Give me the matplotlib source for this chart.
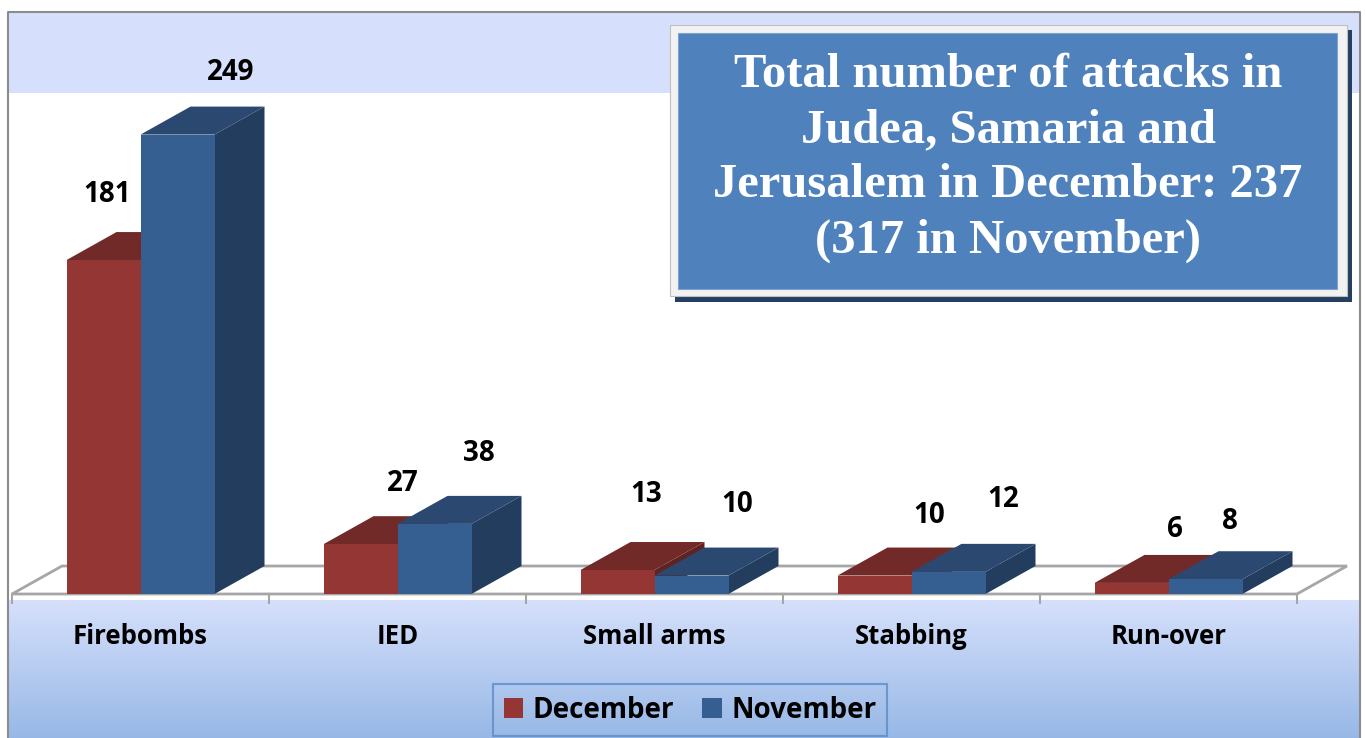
import numpy as np
import matplotlib.pyplot as plt
from matplotlib.patches import Polygon, Rectangle, Patch

categories = ["Firebombs", "IED", "Small arms", "Stabbing", "Run-over"]
december = [181, 27, 13, 10, 6]
november = [249, 38, 10, 12, 8]
series_names = ["December", "November"]
title = "Total number of attacks in\nJudea, Samaria and\nJerusalem in December: 237\n(317 in November)"

# colours: front, top, side
red = ("#943634", "#722A29", "#5E2322")
blue = ("#365F91", "#2B4970", "#223D5E")

# label offsets in pixels (x from bar front centre, y above bar front top)
label_dx = [[4, 53], [42, 44], [29, 46], [55, 55], [43, 24]]
label_dy = [[66, 62], [61, 70], [76, 71], [60, 72], [53, 58]]

font = "Open Sans"

W, H = 1366, 738
fig = plt.figure(figsize=(W / 100, H / 100), dpi=100)

# background layer in pixel coords
bg = fig.add_axes([0, 0, 1, 1], zorder=0)
bg.set_xlim(0, W)
bg.set_ylim(H, 0)
bg.axis("off")
bg.add_patch(Rectangle((8, 12), 1352, 81, color="#D6E0FC", lw=0))
grad = np.linspace(0, 1, 200)[:, None]
cols = np.array([0xD6, 0xE0, 0xFC]) / 255 * (1 - grad) + np.array([0x97, 0xB8, 0xE6]) / 255 * grad
bg.imshow(cols[:, None, :].repeat(2, axis=1), extent=[8, 1360, 738, 600], aspect="auto", zorder=1)
bg.plot([8, 8, 1360, 1360], [738, 12, 12, 738], color="#8C8C8C", lw=1.5, zorder=2)

# title box with shadow
bg.add_patch(Rectangle((675, 30), 677, 272, color="#243F60", lw=0, zorder=3))
bg.add_patch(Rectangle((670, 25), 677, 271, facecolor="#F2F2F2", edgecolor="#BFBFBF", lw=0.8, zorder=4))
bg.add_patch(Rectangle((678, 33), 659, 256, facecolor="#4F81BD", edgecolor="#7FA2CF", lw=0.8, zorder=5))
bg.text(1008, 158, title, ha="center", va="center", color="white", fontsize=35,
        fontweight="bold", family="Liberation Serif", linespacing=1.33, zorder=6)

# main data axes: x in category units, y in value units
sx = 257.0      # px per category
sy = 1.845      # px per value unit
x_px0, y_px0 = 12, 594
ax = fig.add_axes([0, 0, 1, 1], zorder=1)
ax.patch.set_alpha(0)
ax.set_xlim(-0.5 - x_px0 / sx, -0.5 + (W - x_px0) / sx)
ax.set_ylim(-(H - y_px0) / sy, y_px0 / sy)
ax.axis("off")

ddx = 50 / sx
ddy = 28 / sy
bw = 74 / sx
n = len(categories)

# floor
floor_c = "#A6A6A6"
ax.add_patch(Polygon([(-0.5, 0), (n - 0.5, 0), (n - 0.5 + ddx, ddy), (-0.5 + ddx, ddy)],
                     closed=True, facecolor="white", edgecolor=floor_c, lw=2, zorder=1))
for i in range(n + 1):
    ax.plot([i - 0.5, i - 0.5], [0, -9 / sy], color=floor_c, lw=1.5, zorder=1)


def bar3d(x0, h, c):
    x1 = x0 + bw
    ax.add_patch(Polygon([(x1, 0), (x1 + ddx, ddy), (x1 + ddx, h + ddy), (x1, h)],
                         closed=True, color=c[2], lw=0, zorder=2))
    ax.add_patch(Polygon([(x0, h), (x1, h), (x1 + ddx, h + ddy), (x0 + ddx, h + ddy)],
                         closed=True, color=c[1], lw=0, zorder=2))
    ax.add_patch(Rectangle((x0, 0), bw, h, color=c[0], lw=0, zorder=2))


for i in range(n):
    bar3d(i - bw, december[i], red)
    bar3d(i, november[i], blue)
    for j, v in enumerate([december[i], november[i]]):
        cx = i - bw / 2 + j * bw + label_dx[i][j] / sx
        cy = v + label_dy[i][j] / sy
        ax.text(cx, cy, str(v), ha="center", va="center", fontsize=20,
                fontweight="bold", family=font, zorder=5)
    ax.text(i, -42 / sy, categories[i], ha="center", va="center", fontsize=18.5,
            fontweight="bold", family=font, zorder=5)

handles = [Patch(facecolor=red[0]), Patch(facecolor=blue[0])]
leg = fig.legend(handles, series_names, loc="center", bbox_to_anchor=(690 / W, 1 - 710 / H),
                 ncol=2, frameon=True, fancybox=False, edgecolor="#5B8BC9", facecolor="none",
                 handlelength=0.7, handleheight=0.7, handletextpad=0.35, columnspacing=1.0,
                 borderpad=0.4, prop={"family": font, "weight": "bold", "size": 20})
leg.get_frame().set_linewidth(1.5)

fig.savefig("out.png", dpi=100)
